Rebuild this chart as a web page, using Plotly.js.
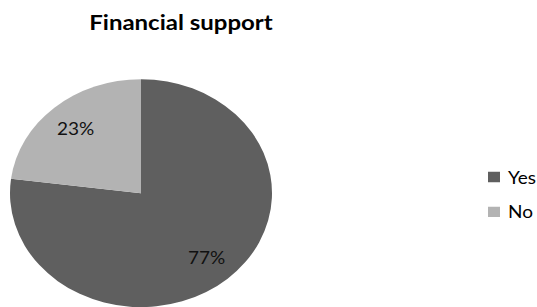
<!DOCTYPE html>
<html>
<head>
<meta charset="utf-8">
<script src="https://cdn.plot.ly/plotly-3.0.1.min.js"></script>
<style>
  html, body { margin: 0; padding: 0; background: #fff; overflow: hidden; }
  #chart { width: 537px; height: 353px; transform: scaleY(0.87); transform-origin: 0 0; }
</style>
</head>
<body>
<div id="chart"></div>
<script>
const categories = ["Yes", "No"];
const percentages = [77, 23];
const sliceColors = ["#5f5f5f", "#b3b3b3"];
const chartTitle = "Financial support";

const W = 537, H = 353;
const cx = 141, cy = 222, r = 131;
const labelRadius = 0.76;
const legendGap = 40;
const legendItemShift = 5;   // whole legend entry moved right
const legendSymbolShift = 6; // symbol moved further right, closer to its text

const trace = {
  type: "pie",
  labels: categories,
  values: percentages,
  sort: false,
  direction: "clockwise",
  rotation: 0,
  marker: { colors: sliceColors, line: { width: 0 } },
  textinfo: "none",
  textposition: "none",
  hoverinfo: "label+percent",
  domain: { x: [(cx - r) / W, (cx + r) / W], y: [(H - cy - r) / H, (H - cy + r) / H] }
};

const total = percentages.reduce((a, b) => a + b, 0);
let cum = 0;
const annotations = percentages.map((v) => {
  const mid = (cum + v / 2) / total;
  cum += v;
  const th = 2 * Math.PI * mid;
  const px = cx + labelRadius * r * Math.sin(th);
  const py = cy - labelRadius * r * Math.cos(th);
  return {
    xref: "paper", yref: "paper",
    x: px / W, y: 1 - py / H,
    xanchor: "center", yanchor: "middle",
    text: v + "%", showarrow: false,
    font: { family: "Lato", size: 19, color: "#111" }
  };
});

const layout = {
  width: W, height: H,
  margin: { l: 0, r: 0, t: 0, b: 0 },
  paper_bgcolor: "#fff",
  title: {
    text: "<b>" + chartTitle + "</b>",
    x: 181 / W, xanchor: "center",
    y: 1 - 26 / H, yanchor: "middle", yref: "container",
    font: { family: "Lato", size: 24, color: "#000" }
  },
  annotations: annotations,
  showlegend: true,
  legend: {
    x: 1, xanchor: "right",
    y: 1 - 217.7 / H, yanchor: "middle",
    font: { family: "Lato", size: 19, color: "#000" },
    itemwidth: 30
  }
};

Plotly.newPlot("chart", [trace], layout, { staticPlot: true }).then((gd) => {
  const items = gd.querySelectorAll(".legend .traces");
  let base = null, extra = 0;
  items.forEach((el, i) => {
    const m = /translate\(\s*([-\d.]+)[ ,]+([-\d.]+)\s*\)/.exec(el.getAttribute("transform") || "");
    if (!m) return;
    const x = parseFloat(m[1]), y = parseFloat(m[2]);
    if (base === null) base = y;
    const ny = base + i * legendGap;
    extra = Math.max(extra, ny - y);
    el.setAttribute("transform", "translate(" + (x + legendItemShift) + "," + ny + ")");
    const pts = el.querySelector(".legendpoints");
    if (pts && !pts.getAttribute("transform")) {
      pts.setAttribute("transform", "translate(" + legendSymbolShift + ",0)");
    }
  });
  const sb = gd.querySelector(".legend .scrollbox");
  if (sb) {
    const cp = sb.getAttribute("clip-path") || "";
    const idm = /#([^)"']+)/.exec(cp);
    if (idm) {
      const rect = document.querySelector("#" + CSS.escape(idm[1]) + " rect");
      if (rect) {
        rect.setAttribute("height", parseFloat(rect.getAttribute("height") || 0) + extra + 20);
        rect.setAttribute("width", parseFloat(rect.getAttribute("width") || 0) + 20);
      }
    }
  }
});
</script>
</body>
</html>
